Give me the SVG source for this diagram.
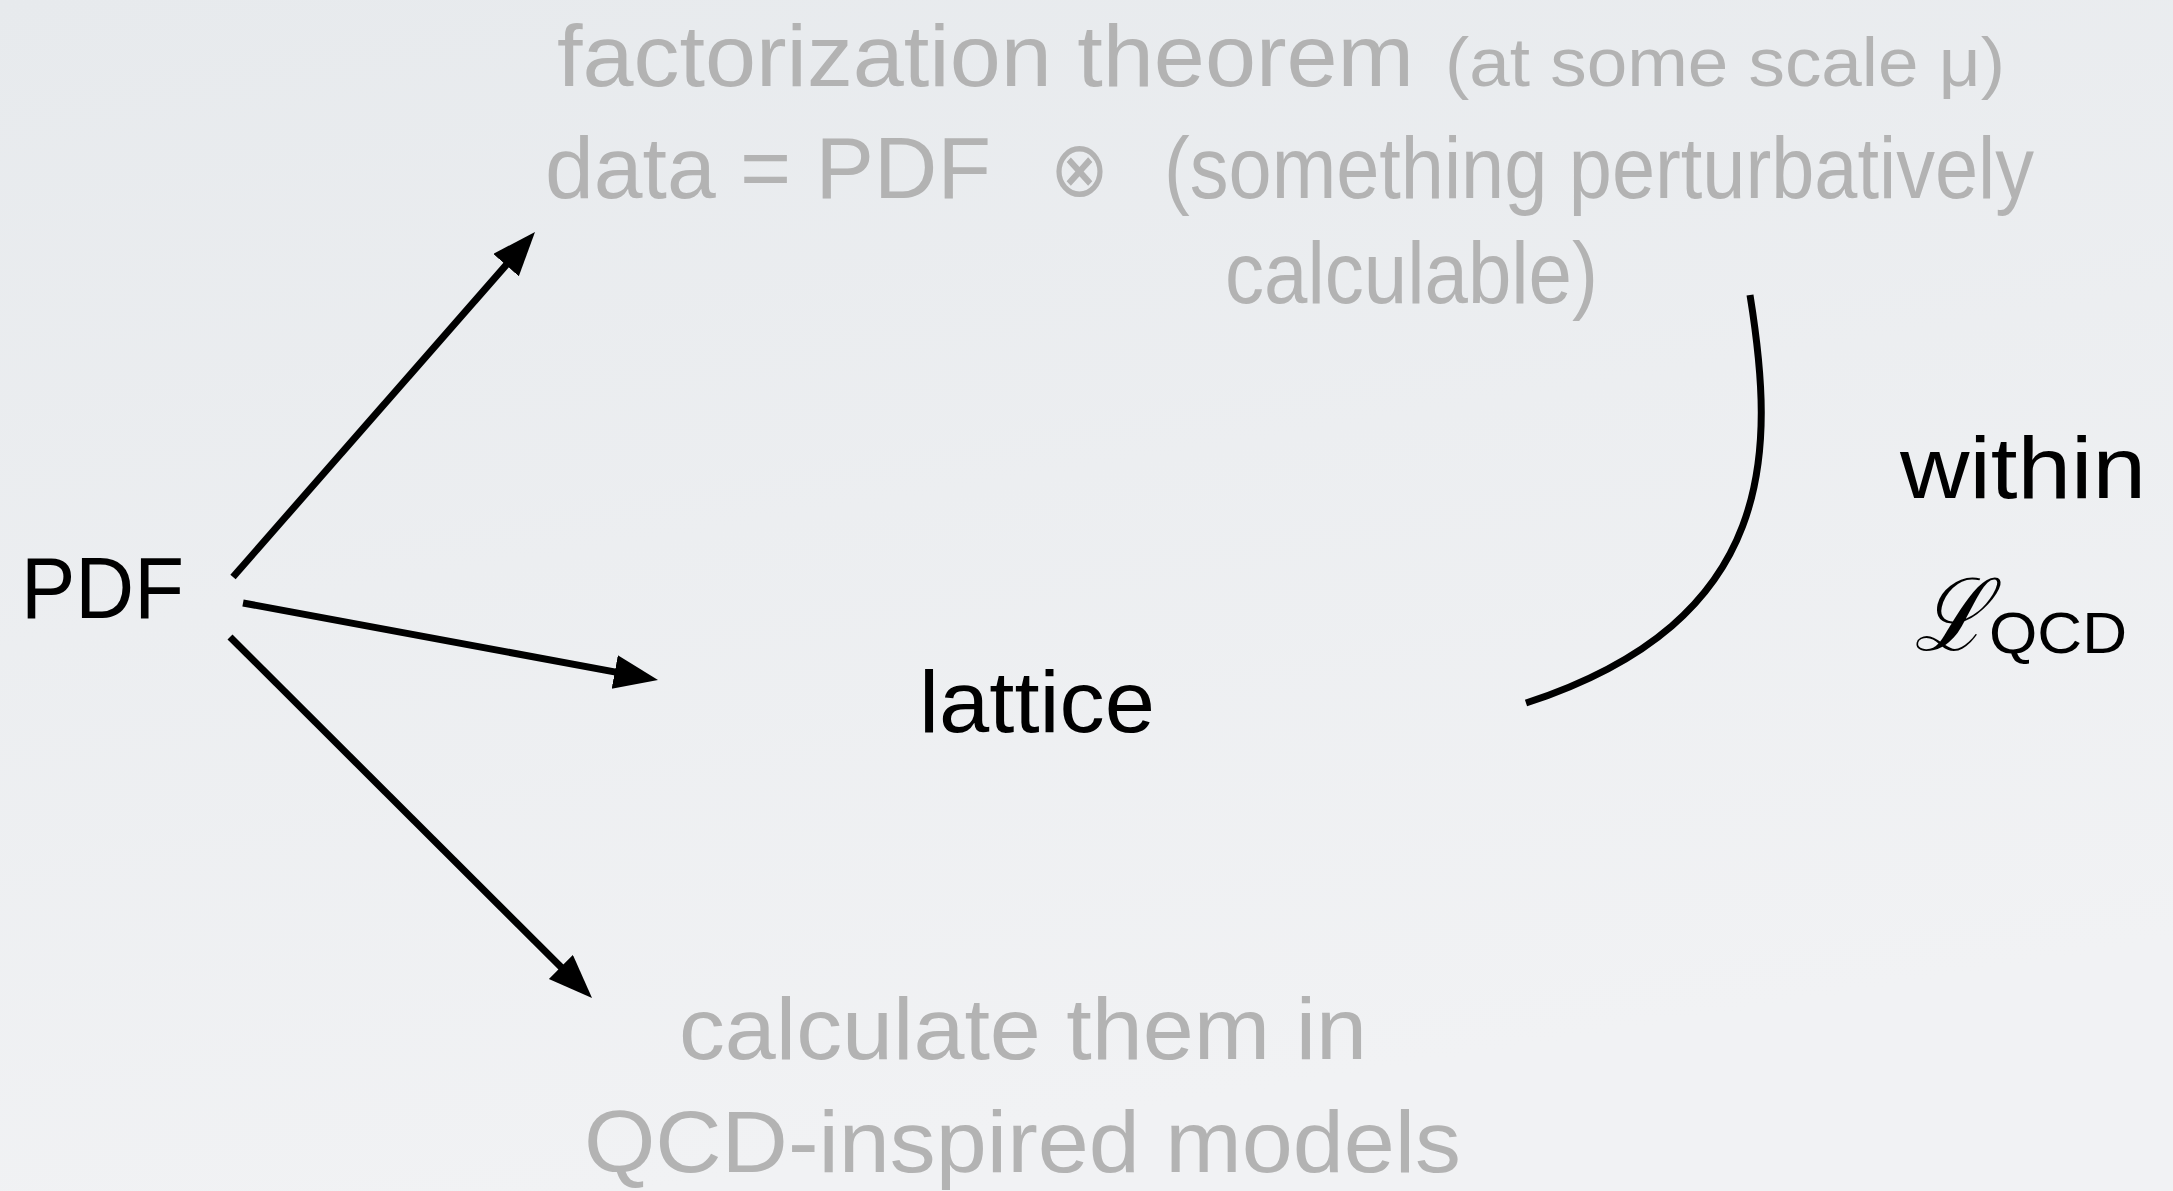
<svg xmlns="http://www.w3.org/2000/svg" width="2173" height="1191" viewBox="0 0 2173 1191">
<defs>
<linearGradient id="bg" x1="0" y1="0" x2="0.3" y2="1">
<stop offset="0" stop-color="#e7eaed"/>
<stop offset="1" stop-color="#f1f2f4"/>
</linearGradient>
<marker id="ah" markerUnits="userSpaceOnUse" markerWidth="48" markerHeight="36" refX="27" refY="17" orient="auto">
<path d="M0,0 L44,17 L0,34 Z" fill="#000"/>
</marker>
<style>
.g{font-family:"Liberation Sans",Arial,sans-serif;fill:#b3b3b3;font-size:88px}
.b{font-family:"Liberation Sans",Arial,sans-serif;fill:#000;font-size:88px}
.c{fill:none;stroke:#000;stroke-width:7}
</style>
</defs>
<rect width="2173" height="1191" fill="url(#bg)"/>
<g id="factorization">
<text class="g" x="557" y="86" textLength="857" lengthAdjust="spacingAndGlyphs">factorization theorem</text>
<text class="g" x="1445" y="86" style="font-size:68px" textLength="560" lengthAdjust="spacingAndGlyphs">(at some scale μ)</text>
<text class="g" x="545" y="198" textLength="446" lengthAdjust="spacingAndGlyphs">data = PDF</text>
<text class="g" x="1050" y="196" style="font-family:'DejaVu Sans',sans-serif;font-size:78px" textLength="59" lengthAdjust="spacingAndGlyphs">⊗</text>
<text class="g" x="1164" y="198" textLength="870" lengthAdjust="spacingAndGlyphs">(something perturbatively</text>
<text class="g" x="1225" y="303" textLength="373" lengthAdjust="spacingAndGlyphs">calculable)</text>
</g>
<g id="pdf">
<text class="b" x="21" y="618" textLength="163" lengthAdjust="spacingAndGlyphs">PDF</text>
</g>
<g id="lattice">
<text class="b" x="919" y="732" textLength="236" lengthAdjust="spacingAndGlyphs">lattice</text>
</g>
<g id="within">
<text class="b" x="1900" y="498" textLength="246" lengthAdjust="spacingAndGlyphs">within</text>
<text x="1914" y="650" style="font-family:'DejaVu Serif','Liberation Serif',serif;font-style:italic;font-size:100px" fill="#000" textLength="74" lengthAdjust="spacingAndGlyphs">ℒ</text>
<text class="b" x="1989" y="653" style="font-size:57px" textLength="138" lengthAdjust="spacingAndGlyphs">QCD</text>
</g>
<g id="models">
<text class="g" x="679" y="1059" textLength="688" lengthAdjust="spacingAndGlyphs">calculate them in</text>
<text class="g" x="584" y="1172" textLength="877" lengthAdjust="spacingAndGlyphs">QCD-inspired models</text>
</g>
<g id="connectors">
<line class="c" x1="233" y1="577" x2="523.8" y2="244.8" marker-end="url(#ah)"/>
<line class="c" x1="243" y1="603" x2="641.3" y2="676.9" marker-end="url(#ah)"/>
<line class="c" x1="230" y1="637" x2="580" y2="986" marker-end="url(#ah)"/>
<path class="c" d="M1750,295 C1775,450 1780,620 1526,703"/>
</g>
</svg>
